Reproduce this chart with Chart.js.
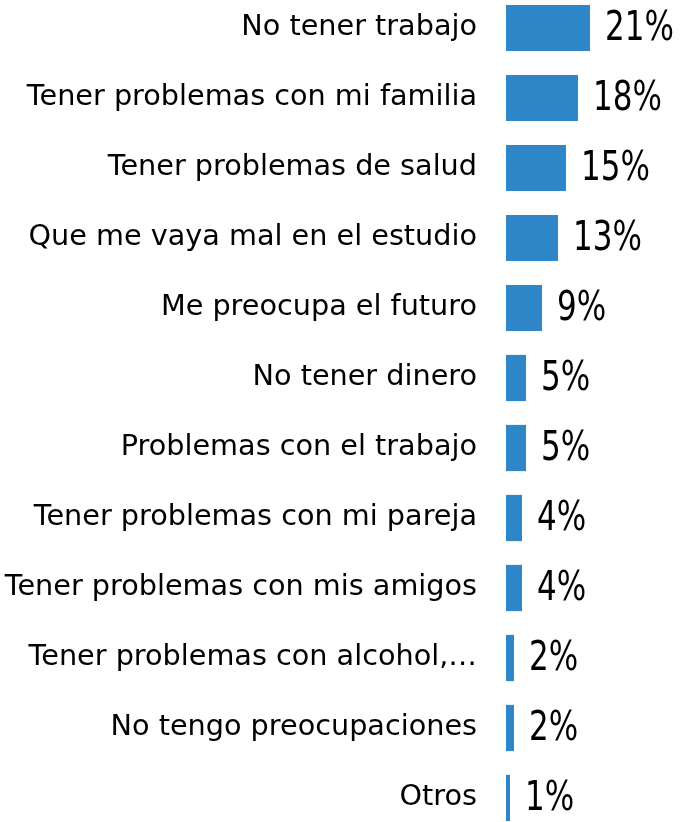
<!DOCTYPE html>
<html>
<head>
<meta charset="utf-8">
<script src="https://cdn.jsdelivr.net/npm/chart.js@4/dist/chart.umd.min.js"></script>
<style>
  html, body { margin: 0; padding: 0; background: #fff; overflow: hidden; }
  #preocupaciones { position: absolute; left: 0; top: -7px; }
</style>
</head>
<body>
<canvas id="preocupaciones" width="683" height="840"></canvas>
<script>
const categories = [
  "No tener trabajo",
  "Tener problemas con mi familia",
  "Tener problemas de salud",
  "Que me vaya mal en el estudio",
  "Me preocupa el futuro",
  "No tener dinero",
  "Problemas con el trabajo",
  "Tener problemas con mi pareja",
  "Tener problemas con mis amigos",
  "Tener problemas con alcohol,…",
  "No tengo preocupaciones",
  "Otros"
];
const percentages = [21, 18, 15, 13, 9, 5, 5, 4, 4, 2, 2, 1];

// percentage labels to the right of each bar, slightly narrowed
const valueLabels = {
  id: 'valueLabels',
  afterDatasetsDraw(chart) {
    const ctx = chart.ctx;
    const meta = chart.getDatasetMeta(0);
    const squeeze = 0.84;
    ctx.save();
    ctx.fillStyle = '#000';
    ctx.font = "41px 'DejaVu Sans Condensed', 'DejaVu Sans', sans-serif";
    ctx.textAlign = 'left';
    ctx.textBaseline = 'middle';
    meta.data.forEach((bar, i) => {
      ctx.save();
      ctx.translate(bar.x + 15, bar.y + 1);
      ctx.scale(squeeze, 1);
      ctx.fillText(percentages[i] + '%', 0, 0);
      ctx.restore();
    });
    ctx.restore();
  }
};

new Chart(document.getElementById('preocupaciones'), {
  type: 'bar',
  data: {
    labels: categories,
    datasets: [{
      data: percentages,
      backgroundColor: 'rgb(46, 134, 200)',
      borderWidth: 0,
      barPercentage: 0.66,
      categoryPercentage: 1
    }]
  },
  options: {
    indexAxis: 'y',
    responsive: false,
    animation: false,
    layout: { padding: 0 },
    plugins: {
      legend: { display: false },
      tooltip: { enabled: false }
    },
    scales: {
      x: {
        display: false,
        min: 0,
        max: 44.25
      },
      y: {
        afterFit(axis) {
          // fixed label column, no extra room above/below the rows
          axis.width = 506;
          axis.paddingTop = 0;
          axis.paddingBottom = 0;
        },
        grid: { display: false, drawTicks: false },
        border: { display: false },
        ticks: {
          color: '#000',
          padding: 29,
          font: { family: "'DejaVu Sans', sans-serif", size: 28.7 }
        }
      }
    }
  },
  plugins: [valueLabels]
});
</script>
</body>
</html>
